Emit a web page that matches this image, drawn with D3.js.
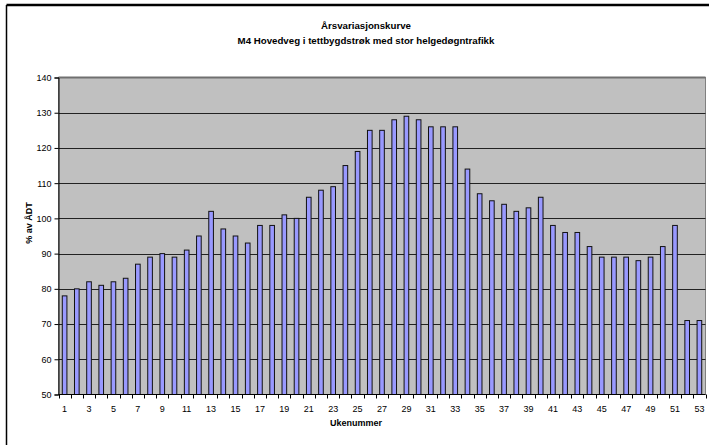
<!DOCTYPE html>
<html>
<head>
<meta charset="utf-8">
<script src="https://cdn.jsdelivr.net/npm/d3@7"></script>
<style>
  html, body { margin: 0; padding: 0; background: #fff; }
  svg { display: block; font-family: "Liberation Sans", Arial, sans-serif; }
</style>
</head>
<body>
<svg id="chart" width="709" height="445"></svg>
<script>
// Week numbers and share of annual average daily traffic (% av ÅDT)
const weeks = d3.range(1, 54);
const values = [
  78, 80, 82, 81, 82, 83, 87, 89, 90, 89,
  91, 95, 102, 97, 95, 93, 98, 98, 101, 100,
  106, 108, 109, 115, 119, 125, 125, 128, 129, 128,
  126, 126, 126, 114, 107, 105, 104, 102, 103, 106,
  98, 96, 96, 92, 89, 89, 89, 88, 89, 92,
  98, 71, 71
];
const yTicks = [50, 60, 70, 80, 90, 100, 110, 120, 130, 140];
const titleLines = ["Årsvariasjonskurve", "M4 Hovedveg i tettbygdstrøk med stor helgedøgntrafikk"];

const svg = d3.select("#chart");
const W = 709, H = 445;
const plot = { left: 58.5, right: 705.5, top: 77.5, bottom: 394.5 };

// outer frame (top and left edges)
svg.append("line").attr("x1", 6.5).attr("x2", W).attr("y1", 5).attr("y2", 5)
  .attr("stroke", "#000").attr("stroke-width", 2.5);
svg.append("line").attr("x1", 6.5).attr("x2", 6.5).attr("y1", 5).attr("y2", H)
  .attr("stroke", "#000").attr("stroke-width", 1.5);

const x = d3.scaleBand().domain(weeks).range([plot.left, plot.right]).paddingInner(0.62).paddingOuter(0.31);
const y = d3.scaleLinear().domain([50, 140]).range([plot.bottom, plot.top]);

// plot background
svg.append("rect")
  .attr("x", plot.left).attr("y", plot.top)
  .attr("width", plot.right - plot.left).attr("height", plot.bottom - plot.top)
  .attr("fill", "#c0c0c0").attr("stroke", "#808080").attr("stroke-width", 1);

// gridlines
svg.append("g").selectAll("line").data(yTicks.filter(t => t > 50 && t < 140)).join("line")
  .attr("x1", plot.left).attr("x2", plot.right)
  .attr("y1", d => Math.round(y(d)) + 0.5).attr("y2", d => Math.round(y(d)) + 0.5)
  .attr("stroke", "#222").attr("stroke-width", 1);
svg.append("line")
  .attr("x1", plot.left).attr("x2", plot.right)
  .attr("y1", plot.top).attr("y2", plot.top)
  .attr("stroke", "#707070").attr("stroke-width", 2);

// bars
svg.append("g").selectAll("rect").data(weeks).join("rect")
  .attr("x", d => x(d))
  .attr("y", (d, i) => y(values[i]))
  .attr("width", x.bandwidth())
  .attr("height", (d, i) => y(50) - y(values[i]))
  .attr("fill", "#9999ff")
  .attr("stroke", "#111").attr("stroke-width", 1);

// y axis
const yAxis = d3.axisLeft(y).tickValues(yTicks).tickSize(4).tickPadding(3);
const gy = svg.append("g").attr("transform", `translate(${plot.left},0)`).call(yAxis);
gy.select(".domain").attr("stroke", "#000");
gy.selectAll(".tick line").attr("stroke", "#000");
gy.selectAll(".tick text").attr("font-size", 9).attr("fill", "#000")
  .attr("font-family", "Liberation Sans, Arial, sans-serif");

// x axis: ticks between categories, labels on odd weeks
const bounds = d3.range(0, weeks.length + 1).map(i => plot.left + i * (plot.right - plot.left) / weeks.length);
const gx = svg.append("g");
gx.append("line").attr("x1", plot.left).attr("x2", plot.right)
  .attr("y1", plot.bottom).attr("y2", plot.bottom).attr("stroke", "#000");
gx.selectAll("line.tk").data(bounds).join("line").attr("class", "tk")
  .attr("x1", d => Math.round(d) + 0.5).attr("x2", d => Math.round(d) + 0.5)
  .attr("y1", plot.bottom).attr("y2", plot.bottom + 4).attr("stroke", "#000");
gx.selectAll("text").data(weeks.filter(w => w % 2 === 1)).join("text")
  .attr("x", d => x(d) + x.bandwidth() / 2)
  .attr("y", 412)
  .attr("text-anchor", "middle")
  .attr("font-size", 9)
  .text(d => d);

// axis titles
svg.append("text").attr("x", 356).attr("y", 426)
  .attr("text-anchor", "middle").attr("font-size", 9).attr("font-weight", "bold")
  .text("Ukenummer");
svg.append("text")
  .attr("transform", "translate(32,223) rotate(-90)")
  .attr("text-anchor", "middle").attr("font-size", 9).attr("font-weight", "bold")
  .text("% av ÅDT");

// chart title
svg.append("g").selectAll("text").data(titleLines).join("text")
  .attr("x", 366)
  .attr("y", (d, i) => 29 + i * 14.5)
  .attr("text-anchor", "middle").attr("font-size", 9.7).attr("font-weight", "bold")
  .text(d => d);
</script>
</body>
</html>
